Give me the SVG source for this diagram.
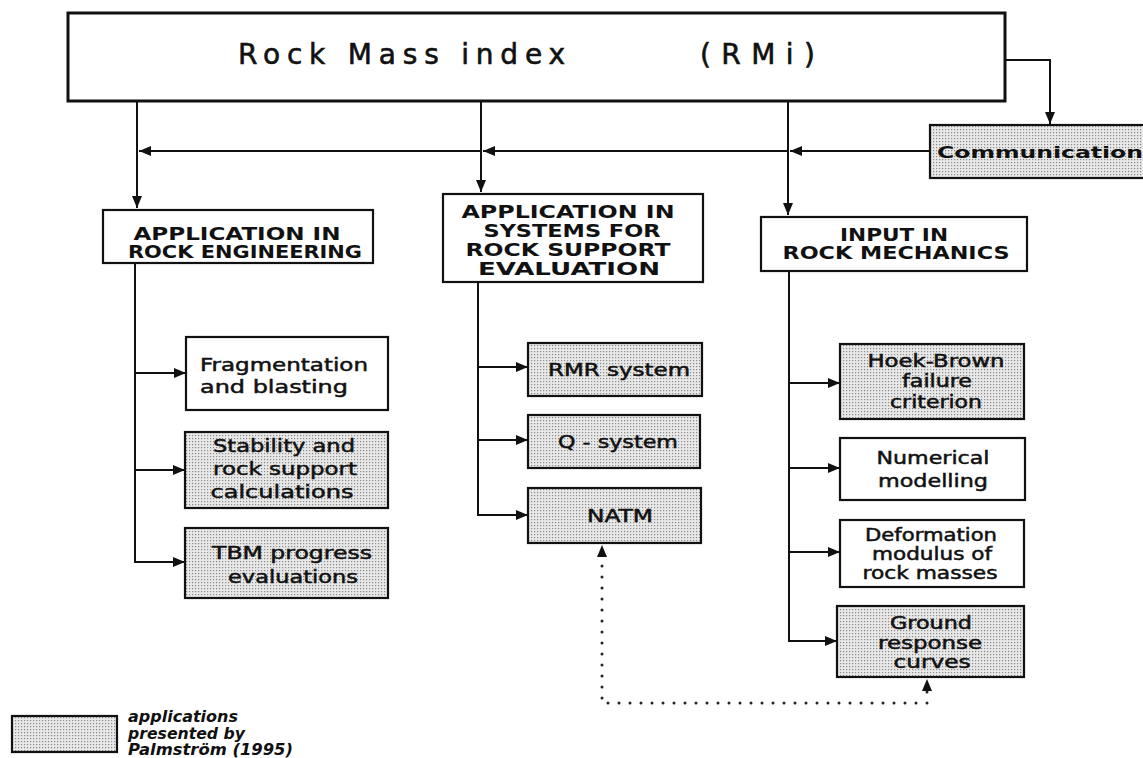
<svg xmlns="http://www.w3.org/2000/svg" width="1143" height="758" viewBox="0 0 1143 758">
<style>
  .box { fill: #ffffff; stroke: #111; stroke-width: 2.2; }
  .shade { fill: url(#dots); stroke: #111; stroke-width: 2.2; }
  .main { fill: #ffffff; stroke: #111; stroke-width: 3; }
  .ln { fill: none; stroke: #111; stroke-width: 2; }
  .dot { fill: none; stroke: #222; stroke-width: 3; stroke-linecap: round; stroke-dasharray: 0 11; }
  .title { font-family: "DejaVu Sans", Verdana, sans-serif; font-size: 28px; fill: #111; stroke: #111; stroke-width: 0.6; }
  .hdr { font-family: "DejaVu Sans", Verdana, sans-serif; font-size: 17px; font-weight: bold; fill: #111; text-anchor: middle; }
  .txt { font-family: "DejaVu Sans", Verdana, sans-serif; font-size: 18px; fill: #111; text-anchor: middle; stroke: #111; stroke-width: 0.5; }
  .sm { font-size: 17px; }
  .com { font-family: "DejaVu Sans", Verdana, sans-serif; font-size: 16px; font-weight: bold; fill: #111; }
  .leg { font-family: "DejaVu Sans", Verdana, sans-serif; font-size: 15px; font-weight: bold; font-style: italic; fill: #111; }
</style>
<defs>
  <pattern id="dots" width="3" height="3" patternUnits="userSpaceOnUse">
    <rect width="3" height="3" fill="#e8e8e8"/>
    <rect width="1.2" height="1.2" fill="#8a8a8a"/>
  </pattern>
  <marker id="arr" viewBox="0 0 12 10" markerWidth="12" markerHeight="10" refX="12" refY="5" orient="auto" markerUnits="userSpaceOnUse">
    <path d="M0,0 L12,5 L0,10 z" fill="#111"/>
  </marker>
</defs>

<g id="connectors">
  <path class="ln" d="M137,100 V208" marker-end="url(#arr)"/>
  <path class="ln" d="M481,101 V192" marker-end="url(#arr)"/>
  <path class="ln" d="M788,102 V215" marker-end="url(#arr)"/>
  <path class="ln" d="M1005,60 H1050 V124" marker-end="url(#arr)"/>
  <path class="ln" d="M930,151 H790" marker-end="url(#arr)"/>
  <path class="ln" d="M788,151 H483" marker-end="url(#arr)"/>
  <path class="ln" d="M481,151 H139" marker-end="url(#arr)"/>
  <path class="ln" d="M135,263 V562 H185" marker-end="url(#arr)"/>
  <path class="ln" d="M135,373 H186" marker-end="url(#arr)"/>
  <path class="ln" d="M135,470 H185" marker-end="url(#arr)"/>
  <path class="ln" d="M478,282 V515 H528" marker-end="url(#arr)"/>
  <path class="ln" d="M478,367 H528" marker-end="url(#arr)"/>
  <path class="ln" d="M478,440 H528" marker-end="url(#arr)"/>
  <path class="ln" d="M789,271 V641 H837" marker-end="url(#arr)"/>
  <path class="ln" d="M789,383 H840" marker-end="url(#arr)"/>
  <path class="ln" d="M789,468 H840" marker-end="url(#arr)"/>
  <path class="ln" d="M789,552 H840" marker-end="url(#arr)"/>
  <path class="dot" d="M927,692 V703 H602 V560"/>
  <path d="M602,545 L597,557 L607,557 z" fill="#111"/>
  <path d="M927,679 L922,691 L932,691 z" fill="#111"/>
</g>

<g id="rmi">
  <rect class="main" x="68" y="13" width="937" height="88"/>
  <text class="title" x="238" y="64" textLength="327">Rock Mass index</text>
  <text class="title" x="700" y="64" textLength="115">(RMi)</text>
</g>

<g id="communication">
  <rect class="shade" x="930" y="125" width="222" height="53"/>
  <text class="com" x="937" y="158" textLength="206" lengthAdjust="spacingAndGlyphs">Communication</text>
</g>

<g id="app-rock-eng">
  <rect class="box" x="103" y="210" width="270" height="53"/>
  <text class="hdr" x="237" y="240" textLength="207" lengthAdjust="spacingAndGlyphs">APPLICATION  IN</text>
  <text class="hdr" x="245" y="258" textLength="234" lengthAdjust="spacingAndGlyphs">ROCK ENGINEERING</text>
</g>

<g id="app-systems">
  <rect class="box" x="443" y="194" width="260" height="88"/>
  <text class="hdr" x="568" y="218" textLength="213" lengthAdjust="spacingAndGlyphs">APPLICATION  IN</text>
  <text class="hdr" x="572" y="237" textLength="177" lengthAdjust="spacingAndGlyphs">SYSTEMS FOR</text>
  <text class="hdr" x="568" y="256" textLength="205" lengthAdjust="spacingAndGlyphs">ROCK SUPPORT</text>
  <text class="hdr" x="569" y="275" textLength="182" lengthAdjust="spacingAndGlyphs">EVALUATION</text>
</g>

<g id="input-rock-mech">
  <rect class="box" x="761" y="217" width="266" height="54"/>
  <text class="hdr" x="894" y="241" textLength="108" lengthAdjust="spacingAndGlyphs">INPUT IN</text>
  <text class="hdr" x="896" y="259" textLength="227" lengthAdjust="spacingAndGlyphs">ROCK MECHANICS</text>
</g>

<g id="fragmentation">
  <rect class="box" x="186" y="337" width="202" height="73"/>
  <text class="txt" x="284" y="371" textLength="168" lengthAdjust="spacingAndGlyphs">Fragmentation</text>
  <text class="txt" x="274" y="393" textLength="148" lengthAdjust="spacingAndGlyphs">and  blasting</text>
</g>

<g id="stability">
  <rect class="shade" x="185" y="432" width="203" height="76"/>
  <text class="txt" x="284" y="452" textLength="142" lengthAdjust="spacingAndGlyphs">Stability and</text>
  <text class="txt" x="285" y="475" textLength="144" lengthAdjust="spacingAndGlyphs">rock support</text>
  <text class="txt" x="282" y="498" textLength="143" lengthAdjust="spacingAndGlyphs">calculations</text>
</g>

<g id="tbm">
  <rect class="shade" x="185" y="528" width="203" height="70"/>
  <text class="txt" x="292" y="559" textLength="160" lengthAdjust="spacingAndGlyphs">TBM progress</text>
  <text class="txt" x="293" y="583" textLength="130" lengthAdjust="spacingAndGlyphs">evaluations</text>
</g>

<g id="rmr">
  <rect class="shade" x="528" y="343" width="174" height="53"/>
  <text class="txt" x="619" y="376" textLength="142" lengthAdjust="spacingAndGlyphs">RMR system</text>
</g>

<g id="q-system">
  <rect class="shade" x="528" y="415" width="172" height="53"/>
  <text class="txt" x="618" y="448" textLength="120" lengthAdjust="spacingAndGlyphs">Q - system</text>
</g>

<g id="natm">
  <rect class="shade" x="528" y="488" width="173" height="55"/>
  <text class="txt" x="620" y="522" textLength="66" lengthAdjust="spacingAndGlyphs">NATM</text>
</g>

<g id="hoek-brown">
  <rect class="shade" x="840" y="344" width="184" height="75"/>
  <text class="txt sm" x="936" y="367" textLength="137" lengthAdjust="spacingAndGlyphs">Hoek-Brown</text>
  <text class="txt sm" x="937" y="387" textLength="70" lengthAdjust="spacingAndGlyphs">failure</text>
  <text class="txt sm" x="936" y="408" textLength="92" lengthAdjust="spacingAndGlyphs">criterion</text>
</g>

<g id="numerical">
  <rect class="box" x="840" y="438" width="185" height="62"/>
  <text class="txt" x="933" y="464" textLength="113" lengthAdjust="spacingAndGlyphs">Numerical</text>
  <text class="txt" x="933" y="487" textLength="110" lengthAdjust="spacingAndGlyphs">modelling</text>
</g>

<g id="deformation">
  <rect class="box" x="840" y="520" width="184" height="67"/>
  <text class="txt sm" x="931" y="541" textLength="132" lengthAdjust="spacingAndGlyphs">Deformation</text>
  <text class="txt sm" x="932" y="560" textLength="120" lengthAdjust="spacingAndGlyphs">modulus of</text>
  <text class="txt sm" x="930" y="579" textLength="135" lengthAdjust="spacingAndGlyphs">rock masses</text>
</g>

<g id="ground-response">
  <rect class="shade" x="837" y="606" width="187" height="71"/>
  <text class="txt sm" x="931" y="629" textLength="82" lengthAdjust="spacingAndGlyphs">Ground</text>
  <text class="txt sm" x="930" y="649" textLength="104" lengthAdjust="spacingAndGlyphs">response</text>
  <text class="txt sm" x="932" y="668" textLength="77" lengthAdjust="spacingAndGlyphs">curves</text>
</g>

<g id="legend">
  <rect class="shade" x="12" y="716" width="105" height="36" stroke-width="1.5"/>
  <text class="leg" x="128" y="722" textLength="110" lengthAdjust="spacingAndGlyphs">applications</text>
  <text class="leg" x="128" y="739" textLength="117" lengthAdjust="spacingAndGlyphs">presented by</text>
  <text class="leg" x="128" y="755" textLength="165" lengthAdjust="spacingAndGlyphs">Palmström (1995)</text>
</g>
</svg>
